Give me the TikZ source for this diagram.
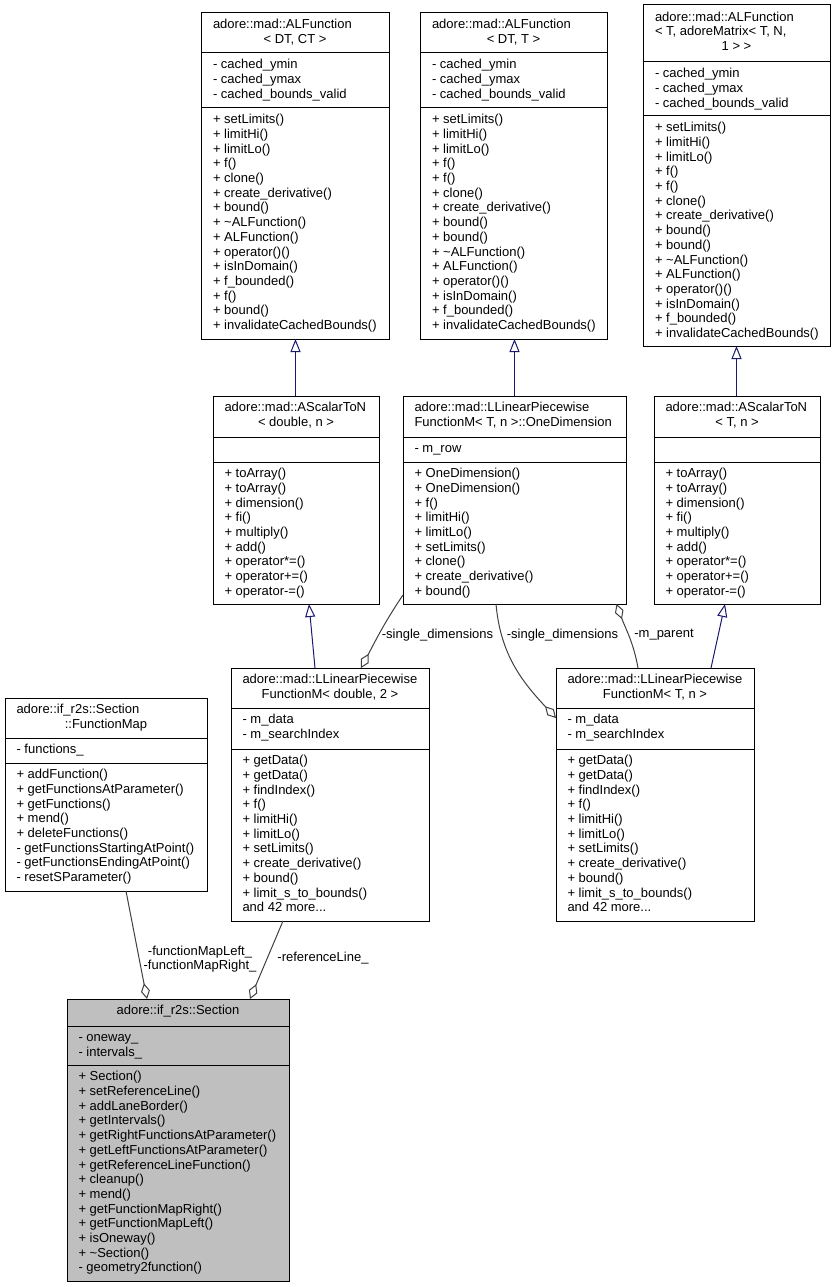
\documentclass[tikz,border=0pt]{standalone}
\usepackage{fontspec}
\setmainfont{Liberation Sans}
\usetikzlibrary{arrows.meta}
\definecolor{edgeblue}{HTML}{191970}
\definecolor{edgegray}{HTML}{404040}
\definecolor{secgray}{HTML}{BFBFBF}

\begin{document}
\begin{tikzpicture}[x=1pt, y=-1pt, line width=1pt,
  cls/.style={draw=black, fill=white, inner sep=0pt, outer sep=0pt, anchor=north west},
  txt/.style={anchor=north west, align=left, inner sep=0pt, font=\fontsize{13pt}{14.67pt}\selectfont},
  ctr/.style={anchor=north, inner sep=0pt, font=\fontsize{13pt}{14.67pt}\selectfont},
  lbl/.style={inner sep=0pt, align=center, font=\fontsize{13pt}{14.67pt}\selectfont},
  inh/.style={draw=edgeblue, line width=1pt, -{Triangle[open, length=13pt, width=10pt]}},
  agg/.style={draw=edgegray, line width=1pt, -{Diamond[open, length=16pt, width=9pt]}}]
  \useasboundingbox (0,0) rectangle (835,1287);

  % ALFunction< DT, CT >
  \node[cls, minimum width=188pt, minimum height=326pt] (alfA) at (201,13) {};
  \draw (201,53) -- (389,53);
  \draw (201,108) -- (389,108);
  \node[txt] (alfA-t) at (212.5,18.2) {\strut adore::mad::ALFunction};
  \node[ctr] (alfA-t2) at (295,32.9) {\strut < DT, CT >};
  \node[txt] (alfA-a) at (212.5,58.2) {\strut - cached\_ymin\\- cached\_ymax\\- cached\_bounds\_valid};
  \node[txt] (alfA-m) at (212.5,113.2) {\strut + setLimits()\\+ limitHi()\\+ limitLo()\\+ f()\\+ clone()\\+ create\_derivative()\\+ bound()\\+ \textasciitilde ALFunction()\\+ ALFunction()\\+ operator()()\\+ isInDomain()\\+ f\_bounded()\\+ f()\\+ bound()\\+ invalidateCachedBounds()};

  % ALFunction< DT, T >
  \node[cls, minimum width=187pt, minimum height=326pt] (alfB) at (420,13) {};
  \draw (420,53) -- (607,53);
  \draw (420,108) -- (607,108);
  \node[txt] (alfB-t) at (431.5,18.2) {\strut adore::mad::ALFunction};
  \node[ctr] (alfB-t2) at (513.5,32.9) {\strut < DT, T >};
  \node[txt] (alfB-a) at (431.5,58.2) {\strut - cached\_ymin\\- cached\_ymax\\- cached\_bounds\_valid};
  \node[txt] (alfB-m) at (431.5,113.2) {\strut + setLimits()\\+ limitHi()\\+ limitLo()\\+ f()\\+ f()\\+ clone()\\+ create\_derivative()\\+ bound()\\+ bound()\\+ \textasciitilde ALFunction()\\+ ALFunction()\\+ operator()()\\+ isInDomain()\\+ f\_bounded()\\+ invalidateCachedBounds()};

  % ALFunction< T, adoreMatrix >
  \node[cls, minimum width=187pt, minimum height=341pt] (alfC) at (643,5) {};
  \draw (643,62) -- (830,62);
  \draw (643,116) -- (830,116);
  \node[txt] (alfC-t) at (654.5,10.5) {\strut adore::mad::ALFunction\\< T, adoreMatrix< T, N,};
  \node[ctr] (alfC-t2) at (736.5,39.8) {\strut 1 > >};
  \node[txt] (alfC-a) at (654.5,67.2) {\strut - cached\_ymin\\- cached\_ymax\\- cached\_bounds\_valid};
  \node[txt] (alfC-m) at (654.5,121.2) {\strut + setLimits()\\+ limitHi()\\+ limitLo()\\+ f()\\+ f()\\+ clone()\\+ create\_derivative()\\+ bound()\\+ bound()\\+ \textasciitilde ALFunction()\\+ ALFunction()\\+ operator()()\\+ isInDomain()\\+ f\_bounded()\\+ invalidateCachedBounds()};

  % AScalarToN< double, n >
  \node[cls, minimum width=166pt, minimum height=208pt] (as1) at (213,396) {};
  \draw (213,437) -- (379,437);
  \draw (213,462) -- (379,462);
  \node[txt] (as1-t) at (224,401.2) {\strut adore::mad::AScalarToN};
  \node[ctr] (as1-t2) at (296,415.9) {\strut < double, n >};
  \node[txt] (as1-m) at (224,467.2) {\strut + toArray()\\+ toArray()\\+ dimension()\\+ fi()\\+ multiply()\\+ add()\\+ operator*=()\\+ operator+=()\\+ operator-=()};

  % OneDimension
  \node[cls, minimum width=223pt, minimum height=208pt] (od) at (403,396) {};
  \draw (403,437) -- (626,437);
  \draw (403,462) -- (626,462);
  \node[txt] (od-t) at (414,401.2) {\strut adore::mad::LLinearPiecewise\\FunctionM< T, n >::OneDimension};
  \node[txt] (od-a) at (414,442.2) {\strut - m\_row};
  \node[txt] (od-m) at (414,467.2) {\strut + OneDimension()\\+ OneDimension()\\+ f()\\+ limitHi()\\+ limitLo()\\+ setLimits()\\+ clone()\\+ create\_derivative()\\+ bound()};

  % AScalarToN< T, n >
  \node[cls, minimum width=166pt, minimum height=208pt] (as2) at (654,396) {};
  \draw (654,437) -- (820,437);
  \draw (654,462) -- (820,462);
  \node[txt] (as2-t) at (665,401.2) {\strut adore::mad::AScalarToN};
  \node[ctr] (as2-t2) at (737,415.9) {\strut < T, n >};
  \node[txt] (as2-m) at (665,467.2) {\strut + toArray()\\+ toArray()\\+ dimension()\\+ fi()\\+ multiply()\\+ add()\\+ operator*=()\\+ operator+=()\\+ operator-=()};

  % LLinearPiecewiseFunctionM< double, 2 >
  \node[cls, minimum width=198pt, minimum height=253pt] (sd) at (231,668) {};
  \draw (231,708) -- (429,708);
  \draw (231,749) -- (429,749);
  \node[txt] (sd-t) at (242,673.2) {\strut adore::mad::LLinearPiecewise};
  \node[ctr] (sd-t2) at (330,687.9) {\strut FunctionM< double, 2 >};
  \node[txt] (sd-a) at (242,713.2) {\strut - m\_data\\- m\_searchIndex};
  \node[txt] (sd-m) at (242,754.2) {\strut + getData()\\+ getData()\\+ findIndex()\\+ f()\\+ limitHi()\\+ limitLo()\\+ setLimits()\\+ create\_derivative()\\+ bound()\\+ limit\_s\_to\_bounds()\\and 42 more...};

  % LLinearPiecewiseFunctionM< T, n >
  \node[cls, minimum width=198pt, minimum height=253pt] (sp) at (556,668) {};
  \draw (556,708) -- (754,708);
  \draw (556,749) -- (754,749);
  \node[txt] (sp-t) at (567,673.2) {\strut adore::mad::LLinearPiecewise};
  \node[ctr] (sp-t2) at (655,687.9) {\strut FunctionM< T, n >};
  \node[txt] (sp-a) at (567,713.2) {\strut - m\_data\\- m\_searchIndex};
  \node[txt] (sp-m) at (567,754.2) {\strut + getData()\\+ getData()\\+ findIndex()\\+ f()\\+ limitHi()\\+ limitLo()\\+ setLimits()\\+ create\_derivative()\\+ bound()\\+ limit\_s\_to\_bounds()\\and 42 more...};

  % Section::FunctionMap
  \node[cls, minimum width=202pt, minimum height=193pt] (fm) at (5,698) {};
  \draw (5,738) -- (207,738);
  \draw (5,763) -- (207,763);
  \node[txt] (fm-t) at (16,703.2) {\strut adore::if\_r2s::Section};
  \node[ctr] (fm-t2) at (106,717.9) {\strut ::FunctionMap};
  \node[txt] (fm-a) at (16,743.2) {\strut - functions\_};
  \node[txt] (fm-m) at (16,768.2) {\strut + addFunction()\\+ getFunctionsAtParameter()\\+ getFunctions()\\+ mend()\\+ deleteFunctions()\\- getFunctionsStartingAtPoint()\\- getFunctionsEndingAtPoint()\\- resetSParameter()};

  % Section
  \node[cls, fill=secgray, minimum width=222pt, minimum height=282pt] (sec) at (67,999) {};
  \draw (67,1026) -- (289,1026);
  \draw (67,1065) -- (289,1065);
  \node[ctr] (sec-t) at (178,1004.2) {\strut adore::if\_r2s::Section};
  \node[txt] (sec-a) at (78,1031.2) {\strut - oneway\_\\- intervals\_};
  \node[txt] (sec-m) at (78,1070.2) {\strut + Section()\\+ setReferenceLine()\\+ addLaneBorder()\\+ getIntervals()\\+ getRightFunctionsAtParameter()\\+ getLeftFunctionsAtParameter()\\+ getReferenceLineFunction()\\+ cleanup()\\+ mend()\\+ getFunctionMapRight()\\+ getFunctionMapLeft()\\+ isOneway()\\+ \textasciitilde Section()\\- geometry2function()};

  % inheritance
  \draw[inh] ([xshift=-0.5pt]as1.north) -- ([xshift=-0.5pt]as1.north |- alfA.south);
  \draw[inh] (od.north) -- (od.north |- alfB.south);
  \draw[inh] ([xshift=-0.5pt]as2.north) -- ([xshift=-0.5pt]as2.north |- alfC.south);
  \draw[inh] ([xshift=-15pt]sd.north) -- ([xshift=13pt]as1.south);
  \draw[inh] ([xshift=56pt]sp.north) -- ([xshift=-12pt]as2.south);

  % members
  \draw[agg] ([yshift=9pt]od.south west) to[out=236, in=62] ([xshift=31pt]sd.north);
  \draw[agg] ([xshift=-18.5pt]od.south) to[out=-85, in=133] ([yshift=-50pt]sp.north west);
  \draw[agg] ([xshift=-17pt]sp.north) to[out=100, in=-70] ([xshift=102pt]od.south);
  \draw[agg] ([xshift=20pt]fm.south) -- ([xshift=-31pt]sec.north);
  \draw[agg] ([xshift=-47pt]sd.south) -- ([xshift=72pt]sec.north);
  \node[lbl] (sdLblA) at (437.5,635) {-single\_dimensions};
  \node[lbl] (sdLblB) at (562.5,635) {-single\_dimensions};
  \node[lbl] (parLbl) at (664,635) {-m\_parent};
  \node[lbl] (mapLbl) at (200,959) {-functionMapLeft\_\\-functionMapRight\_};
  \node[lbl] (refLbl) at (323,958) {-referenceLine\_};
\end{tikzpicture}
\end{document}
